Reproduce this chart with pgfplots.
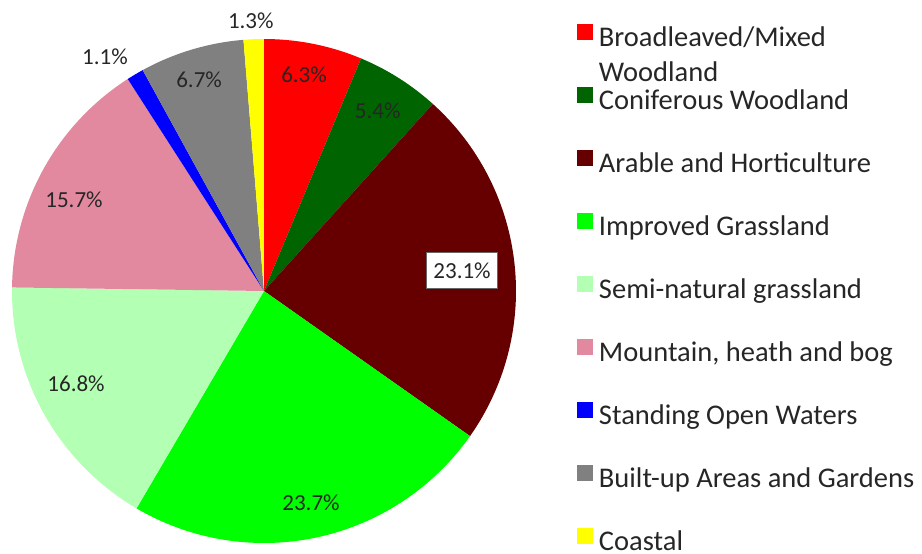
\documentclass[border=0pt]{standalone}
\usepackage{fontspec}
\setmainfont{Carlito}
\usepackage{pgfplots}
\pgfplotsset{compat=1.18}
\usepgfplotslibrary{polar}

\definecolor{cBroad}{HTML}{FF0000}
\definecolor{cConif}{HTML}{006400}
\definecolor{cArable}{HTML}{660000}
\definecolor{cImpr}{HTML}{00FF00}
\definecolor{cSemi}{HTML}{B3FFB3}
\definecolor{cMount}{HTML}{E2889F}
\definecolor{cWater}{HTML}{0000FF}
\definecolor{cBuilt}{HTML}{808080}
\definecolor{cCoast}{HTML}{FFFF00}

% degrees per percent point (shares add up to 100.1)
\newcommand{\pf}{3.5964}

\begin{document}
\begin{tikzpicture}[pct/.style={font=\fontsize{23}{27}\selectfont, text=black!85}]
\useasboundingbox (-264pt,-263pt) rectangle (658pt,291pt);
\begin{polaraxis}[
  at={(0pt,0pt)}, anchor=center,
  scale only axis, width=504pt, height=504pt,
  xmin=0, xmax=360, ymin=0, ymax=1,
  hide axis, clip=false,
  legend style={at={(1.121,1.030)}, anchor=north west, draw=none, fill=none,
    inner sep=0pt, outer sep=0pt, row sep=33.5pt, column sep=6pt,
    font=\fontsize{28.5}{35}\selectfont, text=black!85,
    nodes={inner sep=0pt, outer sep=0pt, text height=20pt, text depth=7pt}},
  legend cell align=left,
  legend image code/.code={\fill[#1] (0pt,0pt) rectangle (16pt,16pt);},
]
% shares (%): 6.3 5.4 23.1 23.7 16.8 15.7 1.1 6.7 1.3, clockwise from the top
\addplot[fill=cBroad, draw=none, domain={90-\pf*6.3}:{90-\pf*0}, samples=60] {1} -- (axis cs:0,0) -- cycle;
\addlegendentry{\parbox[t]{8cm}{Broadleaved/Mixed\\Woodland}}
\addplot[fill=cConif, draw=none, domain={90-\pf*11.7}:{90-\pf*6.3}, samples=60] {1} -- (axis cs:0,0) -- cycle;
\addlegendentry{Coniferous Woodland}
\addplot[fill=cArable, draw=none, domain={90-\pf*34.8}:{90-\pf*11.7}, samples=120] {1} -- (axis cs:0,0) -- cycle;
\addlegendentry{Arable and Horticulture}
\addplot[fill=cImpr, draw=none, domain={90-\pf*58.5}:{90-\pf*34.8}, samples=120] {1} -- (axis cs:0,0) -- cycle;
\addlegendentry{Improved Grassland}
\addplot[fill=cSemi, draw=none, domain={90-\pf*75.3}:{90-\pf*58.5}, samples=100] {1} -- (axis cs:0,0) -- cycle;
\addlegendentry{Semi-natural grassland}
\addplot[fill=cMount, draw=none, domain={90-\pf*91.0}:{90-\pf*75.3}, samples=100] {1} -- (axis cs:0,0) -- cycle;
\addlegendentry{Mountain, heath and bog}
\addplot[fill=cWater, draw=none, domain={90-\pf*92.1}:{90-\pf*91.0}, samples=20] {1} -- (axis cs:0,0) -- cycle;
\addlegendentry{Standing Open Waters}
\addplot[fill=cBuilt, draw=none, domain={90-\pf*98.8}:{90-\pf*92.1}, samples=60] {1} -- (axis cs:0,0) -- cycle;
\addlegendentry{Built-up Areas and Gardens}
\addplot[fill=cCoast, draw=none, domain={90-\pf*100.1}:{90-\pf*98.8}, samples=20] {1} -- (axis cs:0,0) -- cycle;
\addlegendentry{Coastal}

\node[pct] at (axis cs:79.5,0.872) {6.3\%};
\node[pct] at (axis cs:57.7,0.845) {5.4\%};
\node[pct, fill=white, draw=black!60, line width=0.8pt, inner xsep=7pt, minimum height=36pt]
  at (axis cs:5.8,0.79) {23.1\%};
\node[pct] at (axis cs:-77.5,0.862) {23.7\%};
\node[pct] at (axis cs:206.3,0.832) {16.8\%};
\node[pct] at (axis cs:154.4,0.836) {15.7\%};
\node[pct] at (axis cs:124.2,1.123) {1.1\%};
\node[pct] at (axis cs:107.1,0.876) {6.7\%};
\node[pct] at (axis cs:92.8,1.073) {1.3\%};
\end{polaraxis}
\end{tikzpicture}
\end{document}
